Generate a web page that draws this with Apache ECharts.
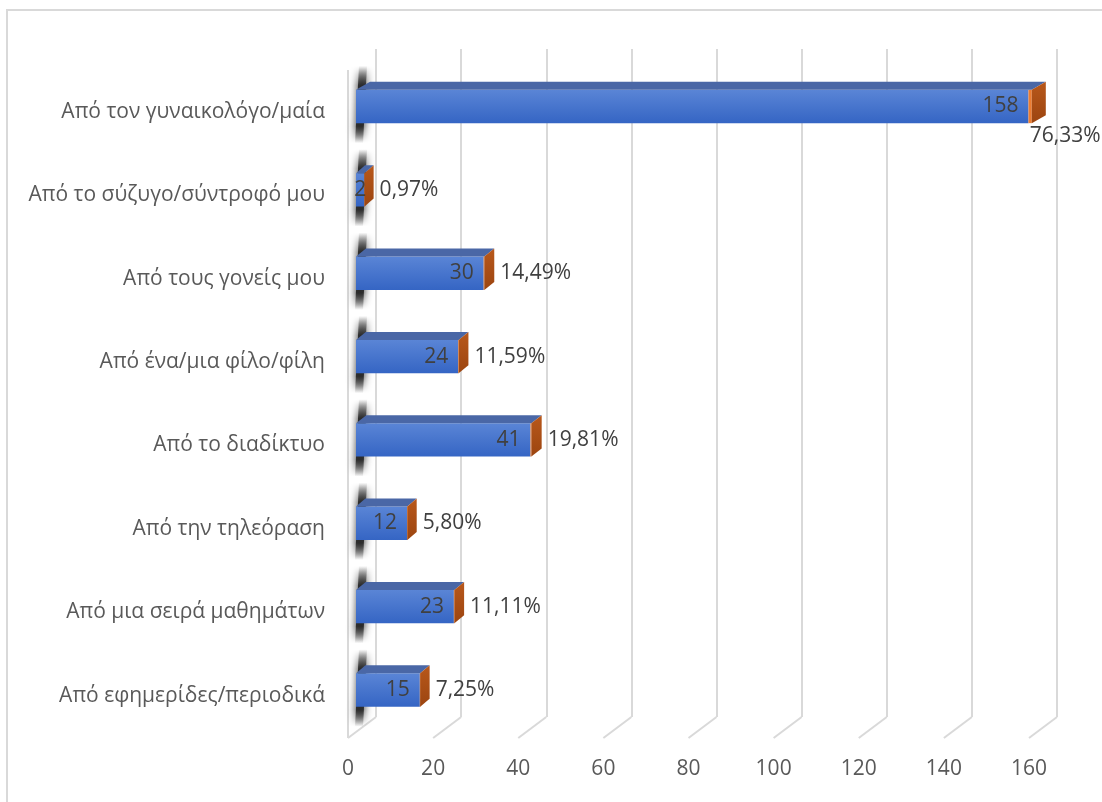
<!DOCTYPE html>
<html>
<head>
<meta charset="utf-8">
<script src="https://cdn.jsdelivr.net/npm/echarts@6/dist/echarts.min.js"></script>
<style>
  html, body { margin: 0; padding: 0; background: #fff; }
  #chart { width: 1102px; height: 802px; }
</style>
</head>
<body>
<div id="chart"></div>
<script>
// Sources of information (counts and share of respondents)
const categories = [
  'Από τον γυναικολόγο/μαία',
  'Από το σύζυγο/σύντροφό μου',
  'Από τους γονείς μου',
  'Από ένα/μια φίλο/φίλη',
  'Από το διαδίκτυο',
  'Από την τηλεόραση',
  'Από μια σειρά μαθημάτων',
  'Από εφημερίδες/περιοδικά'
];
const counts = [158, 2, 30, 24, 41, 12, 23, 15];
const shares = [76.33, 0.97, 14.49, 11.59, 19.81, 5.80, 11.11, 7.25];
const xTicks = [0, 20, 40, 60, 80, 100, 120, 140, 160];

// pseudo-3D layout constants
const FONT = '"Open Sans", "Noto Sans", sans-serif';
const PLANE_SHIFT = 8;      // bars sit a little behind the front floor edge
const WALL_DX = 28;
const FLOOR_FRONT_Y = 738, FLOOR_BACK_Y = 717, WALL_TOP_FRONT = 70;

const fmtPct = v => v.toFixed(2).replace('.', ',') + '%';

const chart = echarts.init(document.getElementById('chart'), null, { renderer: 'canvas' });

const frontGrad = () => new echarts.graphic.LinearGradient(0, 0, 0, 1, [
  { offset: 0, color: '#5a85d6' }, { offset: 1, color: '#3565c4' }
]);
const sideGrad = () => new echarts.graphic.LinearGradient(0, 0, 0, 1, [
  { offset: 0, color: '#b8581b' }, { offset: 1, color: '#9c4510' }
]);
const wallShadeGrad = () => new echarts.graphic.LinearGradient(0, 0, 0, 1, [
  { offset: 0, color: 'rgba(35,35,35,0)' },
  { offset: 0.25, color: 'rgba(35,35,35,0.9)' },
  { offset: 0.78, color: 'rgba(35,35,35,0.9)' },
  { offset: 1, color: 'rgba(35,35,35,0)' }
]);

function renderBar(params, api) {
  const v = api.value(0), idx = api.value(1), pct = api.value(2);
  const p0 = api.coord([0, idx]);
  const p1 = api.coord([v, idx]);
  const p2 = api.coord([v + pct / 100, idx]);
  const band = api.size([0, 1])[1];
  const h = band * 0.4;
  const xL = p0[0] + PLANE_SHIFT, xM = p1[0] + PLANE_SHIFT, xR = p2[0] + PLANE_SHIFT;
  const yT = p0[1] - h / 2, yB = p0[1] + h / 2, yC = p0[1];
  const dx = 9 + (xR - xL) * 0.0075, dy = 8;

  const cntText = String(v);
  const cntW = cntText.length * 12;
  const cntX = Math.max((xL + xM) / 2, xM - 10 - cntW / 2);

  const pctText = fmtPct(pct);
  let pctX = xR + dx + 6, pctY = yC;
  if (pctX + 78 > api.getWidth() - 2) { pctX = xR - 2; pctY = yB + 13; }

  // slanted soft shadow cast on the side wall
  const sTop = yT - dy - 16, sBot = yB + 20;
  const shadowPts = [[xL + 3, sTop], [xL + 11, sTop], [xL + 7, sBot], [xL - 1, sBot]];

  return {
    type: 'group',
    children: [
      { type: 'polygon', z2: 1, shape: { points: shadowPts },
        style: { fill: wallShadeGrad(), shadowBlur: 8, shadowColor: 'rgba(20,20,20,1)' } },
      { type: 'rect', z2: 5, shape: { x: xL, y: yT, width: xM - xL, height: h },
        style: { fill: frontGrad() } },
      { type: 'rect', z2: 5, shape: { x: xM, y: yT, width: Math.max(xR - xM, 0.6), height: h },
        style: { fill: '#ed7d31' } },
      { type: 'polygon', z2: 5,
        shape: { points: [[xL, yT], [xL + dx, yT - dy], [xR + dx, yT - dy], [xR, yT]] },
        style: { fill: '#4a67a6' } },
      { type: 'polygon', z2: 5,
        shape: { points: [[xR, yT], [xR + dx, yT - dy], [xR + dx, yB - dy], [xR, yB]] },
        style: { fill: sideGrad() } },
      { type: 'text', z2: 8,
        style: { text: cntText, x: cntX, y: yC, align: 'center', verticalAlign: 'middle',
                 fill: '#404040', fontSize: 21, fontFamily: FONT } },
      { type: 'text', z2: 8,
        style: { text: pctText, x: pctX, y: pctY, align: 'left', verticalAlign: 'middle',
                 fill: '#404040', fontSize: 21, fontFamily: FONT } }
    ]
  };
}

function renderFloor(params, api) {
  const x = api.coord([api.value(0), 0])[0];
  const children = [
    { type: 'line', shape: { x1: x + WALL_DX, y1: FLOOR_BACK_Y, x2: x, y2: FLOOR_FRONT_Y },
      style: { stroke: '#d9d9d9', lineWidth: 2 } }
  ];
  if (api.value(0) === xTicks[0]) {
    children.push({ type: 'line', shape: { x1: x, y1: WALL_TOP_FRONT, x2: x, y2: FLOOR_FRONT_Y },
      style: { stroke: '#d9d9d9', lineWidth: 2 } });
  }
  return { type: 'group', children };
}

const option = {
  animation: false,
  backgroundColor: '#ffffff',
  graphic: [
    { type: 'rect', z: -10, shape: { x: 7, y: 10, width: 1110, height: 810 },
      style: { fill: '#ffffff', stroke: '#d9d9d9', lineWidth: 2 } }
  ],
  grid: [
    { left: 348, right: 73, top: 64.8, bottom: 70.3 },
    { left: 348 + WALL_DX, right: 73 - WALL_DX, top: 49, bottom: 802 - FLOOR_BACK_Y }
  ],
  xAxis: [
    { type: 'value', gridIndex: 0, min: xTicks[0], max: xTicks[xTicks.length - 1], interval: 20,
      axisLine: { show: false }, axisTick: { show: false }, splitLine: { show: false },
      axisLabel: { margin: 27, fontSize: 21, color: '#595959', fontFamily: FONT } },
    { type: 'value', gridIndex: 1, min: xTicks[0], max: xTicks[xTicks.length - 1], interval: 20,
      axisLine: { show: false }, axisTick: { show: false }, axisLabel: { show: false },
      splitLine: { show: true, lineStyle: { color: '#d9d9d9', width: 2 } } }
  ],
  yAxis: [
    { type: 'category', gridIndex: 0, inverse: true, data: categories,
      axisLine: { show: false }, axisTick: { show: false },
      axisLabel: { margin: 23, fontSize: 21, color: '#595959', fontFamily: FONT,
                   verticalAlign: 'top', lineHeight: 11 } },
    { type: 'value', gridIndex: 1, show: false, min: 0, max: 1 }
  ],
  series: [
    { type: 'custom', name: 'floor', xAxisIndex: 0, yAxisIndex: 0, silent: true, z: 1,
      renderItem: renderFloor, data: xTicks.map(t => [t]), encode: { x: 0 } },
    { type: 'custom', name: 'Πλήθος', xAxisIndex: 0, yAxisIndex: 0, z: 3,
      renderItem: renderBar,
      data: categories.map((c, i) => [counts[i], i, shares[i]]),
      encode: { x: 0, y: 1 } }
  ]
};

chart.setOption(option);
</script>
</body>
</html>
